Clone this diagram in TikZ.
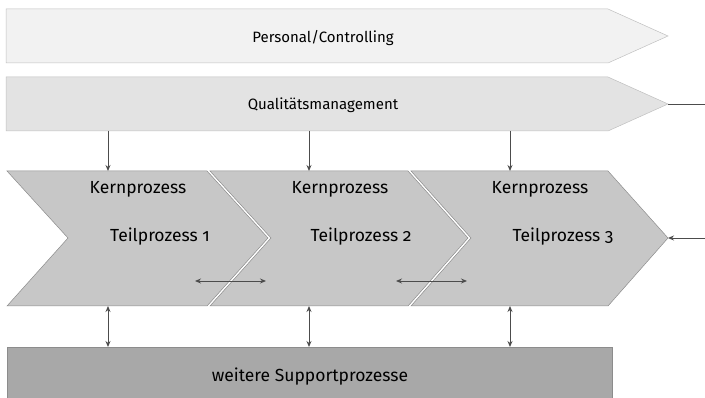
\documentclass[tikz,border=0pt]{standalone}
\usepackage{fontspec}
\setmainfont[Numbers=OldStyle]{Fira Sans}
\usetikzlibrary{arrows.meta}

\tikzset{
  lane/.style={draw=black!25, line width=0.5pt},
  chevron/.style={draw=black!45, fill=black!22, line width=0.5pt},
  link/.style={-{Stealth[length=6pt,width=5pt]}, draw=black!70, line width=0.9pt},
  twoway/.style={{Stealth[length=6pt,width=5pt]}-{Stealth[length=6pt,width=5pt]}, draw=black!70, line width=0.9pt},
  smalltxt/.style={font=\fontsize{15}{17}\selectfont, inner sep=0pt},
  bigtxt/.style={font=\fontsize{17.5}{20}\selectfont, inner sep=0pt}
}

\begin{document}
\begin{tikzpicture}[x=1pt,y=-1pt]
\useasboundingbox (0,0) rectangle (705,398);

% lanes on top
\draw[lane, fill=black!5] (6,9) -- (608,9) -- (668,36) -- (608,63) -- (6,63) -- cycle;
\node[smalltxt] (pc) at (323,38) {Personal/Controlling};

\draw[lane, fill=black!11] (6,77) -- (608,77) -- (668,104) -- (608,131) -- (6,131) -- cycle;
\node[smalltxt] (qm) at (323,105) {Qualitätsmanagement};
\coordinate (qmtip) at (668,104);
\coordinate (qmout) at (705,104);

% core process chevrons
\draw[chevron] (7,171) -- (207,171) -- (268,238) -- (207,306) -- (7,306) -- (68,238) -- cycle;
\draw[chevron] (210,171) -- (408,171) -- (468,238) -- (408,306) -- (210,306) -- (271,238) -- cycle;
\draw[chevron] (411,171) -- (608,171) -- (668,238) -- (608,306) -- (411,306) -- (471,238) -- cycle;

\node[bigtxt] (k1) at (138,189) {Kernprozess};
\node[bigtxt] (t1) at (160,237) {Teilprozess 1};
\node[bigtxt] (k2) at (340,189) {Kernprozess};
\node[bigtxt] (t2) at (361,237) {Teilprozess 2};
\node[bigtxt] (k3) at (540,189) {Kernprozess};
\node[bigtxt] (t3) at (563,237) {Teilprozess 3};

\coordinate (ctip) at (668,238);
\coordinate (cin) at (705,238);

% support box
\draw[draw=black!45, fill=black!34, line width=0.5pt] (7,347) rectangle (612,402);
\node[bigtxt] (sp) at (310,377) {weitere Supportprozesse};

% anchor points
\foreach \x/\n in {108/1,309/2,510/3} {
  \coordinate (qm\n) at (\x,131);
  \coordinate (kt\n) at (\x,171);
  \coordinate (kb\n) at (\x,306);
  \coordinate (sp\n) at (\x,347);
}
\coordinate (h1a) at (195,281);
\coordinate (h1b) at (266,281);
\coordinate (h2a) at (396,281);
\coordinate (h2b) at (467,281);

\draw[link] (qm1) -- (kt1);
\draw[link] (qm2) -- (kt2);
\draw[link] (qm3) -- (kt3);

\draw[twoway] (kb1) -- (sp1);
\draw[twoway] (kb2) -- (sp2);
\draw[twoway] (kb3) -- (sp3);

\draw[twoway] (h1a) -- (h1b);
\draw[twoway] (h2a) -- (h2b);

\draw[draw=black!70, line width=0.9pt] (qmtip) -- (qmout);
\draw[link] (cin) -- (ctip);

\end{tikzpicture}
\end{document}
